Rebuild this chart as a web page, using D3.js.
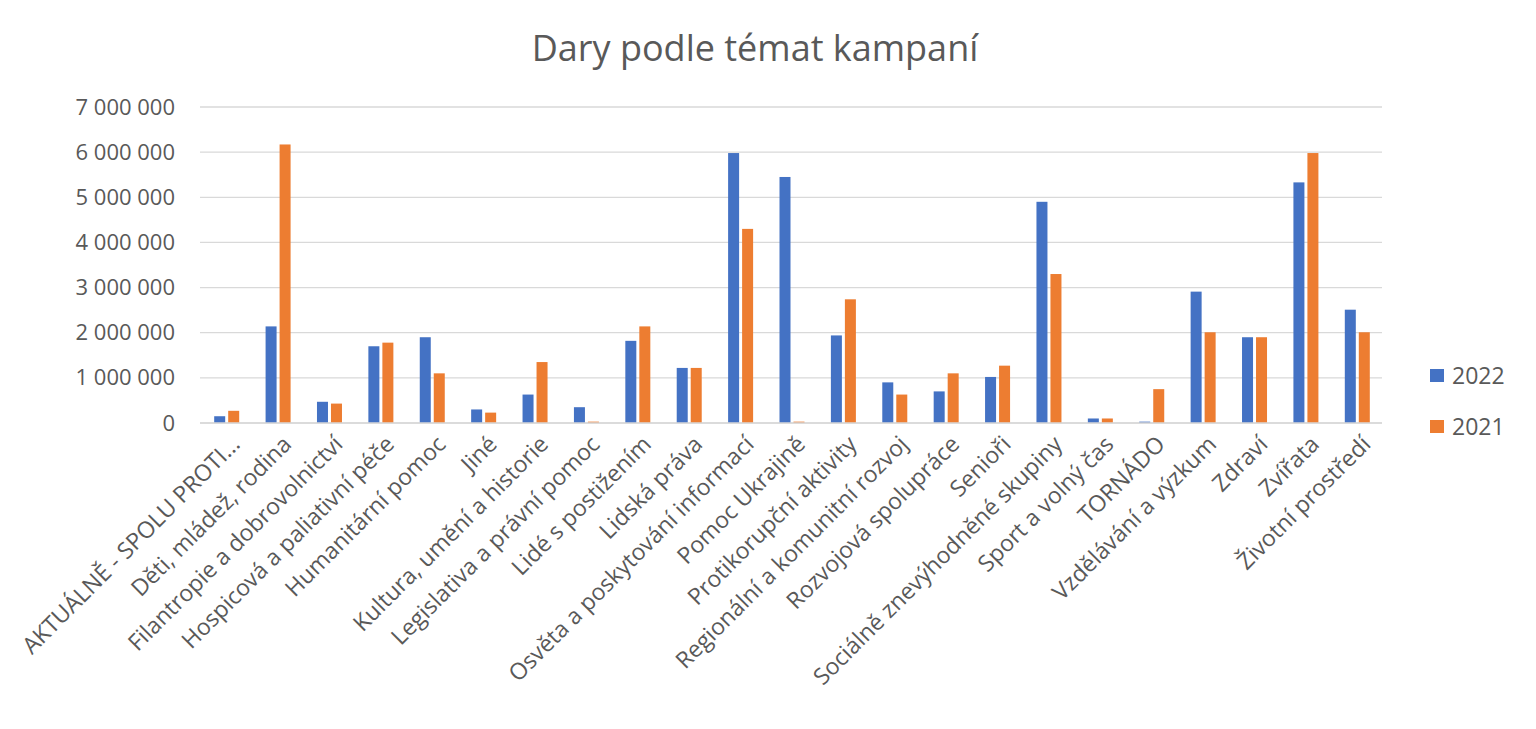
<!DOCTYPE html>
<html>
<head>
<meta charset="utf-8">
<script src="https://cdn.jsdelivr.net/npm/d3@7"></script>
<style>
  body { margin: 0; background: #fff; }
  svg text { font-family: "Open Sans", "Noto Sans", sans-serif; fill: #595959; }
</style>
</head>
<body>
<div id="chart"></div>
<script>
var categories = [
    "AKTUÁLNĚ - SPOLU PROTI...", "Děti, mládež, rodina", "Filantropie a dobrovolnictví",
    "Hospicová a paliativní péče", "Humanitární pomoc", "Jiné", "Kultura, umění a historie",
    "Legislativa a právní pomoc", "Lidé s postižením", "Lidská práva",
    "Osvěta a poskytování informací", "Pomoc Ukrajině", "Protikorupční aktivity",
    "Regionální a komunitní rozvoj", "Rozvojová spolupráce", "Senioři",
    "Sociálně znevýhodněné skupiny", "Sport a volný čas", "TORNÁDO", "Vzdělávání a výzkum",
    "Zdraví", "Zvířata", "Životní prostředí"
];
var values2022 = [
    150000, 2140000, 470000, 1700000, 1900000, 300000, 630000, 350000, 1820000, 1220000,
    5980000, 5450000, 1940000, 900000, 700000, 1020000, 4900000, 100000, 30000, 2910000,
    1900000, 5330000, 2510000
];
var values2021 = [
    270000, 6170000, 430000, 1780000, 1100000, 230000, 1350000, 30000, 2140000, 1220000,
    4300000, 30000, 2740000, 630000, 1100000, 1270000, 3300000, 100000, 750000, 2010000,
    1900000, 5980000, 2010000
];
var seriesNames = ["2022", "2021"];
var seriesColors = ["#4472C4", "#ED7D31"];
var yTicks = [0, 1000000, 2000000, 3000000, 4000000, 5000000, 6000000, 7000000];

var width = 1536, height = 729;
var margin = { top: 107, left: 200, right: 154, bottom: 306 };
var plotW = width - margin.left - margin.right;
var plotH = height - margin.top - margin.bottom;

var svg = d3.select("#chart").append("svg")
    .attr("width", width)
    .attr("height", height);

svg.append("text")
    .attr("x", 755)
    .attr("y", 61)
    .attr("text-anchor", "middle")
    .style("font-size", "36px")
    .text("Dary podle témat kampaní");

var g = svg.append("g").attr("transform", "translate(" + margin.left + "," + margin.top + ")");

var x = d3.scaleBand().domain(categories).range([0, plotW]).paddingInner(0).paddingOuter(0);
var y = d3.scaleLinear().domain([0, 7000000]).range([plotH, 0]);

var fmt = function (d) { return d3.format(",")(d).replace(/,/g, " "); };

// gridlines
g.append("g").selectAll("line").data(yTicks).enter().append("line")
    .attr("x1", 0).attr("x2", plotW)
    .attr("y1", function (d) { return y(d); })
    .attr("y2", function (d) { return y(d); })
    .attr("stroke", "#d9d9d9")
    .attr("stroke-width", 1.3);

// y axis labels
var yAxis = g.append("g").call(d3.axisLeft(y).tickValues(yTicks).tickFormat(fmt).tickSize(0).tickPadding(25));
yAxis.select(".domain").remove();
yAxis.selectAll("text").style("font-size", "22px").attr("fill", "#595959");

// bars
var barW = 11, gap = 3;
var groups = g.append("g").selectAll("g").data(categories).enter().append("g")
    .attr("transform", function (d) { return "translate(" + (x(d) + x.bandwidth() / 2 + 1) + ",0)"; });

[values2022, values2021].forEach(function (vals, si) {
    groups.append("rect")
        .attr("x", si === 0 ? -barW - gap / 2 : gap / 2)
        .attr("y", function (d, i) { return y(vals[i]); })
        .attr("width", barW)
        .attr("height", function (d, i) { return plotH - y(vals[i]); })
        .attr("fill", seriesColors[si]);
});

// x axis line
g.append("line")
    .attr("x1", 0).attr("x2", plotW)
    .attr("y1", plotH).attr("y2", plotH)
    .attr("stroke", "#d9d9d9").attr("stroke-width", 1.3);

// x labels
var xAxis = g.append("g").attr("transform", "translate(0," + plotH + ")")
    .call(d3.axisBottom(x).tickSize(0).tickPadding(0));
xAxis.select(".domain").remove();
xAxis.selectAll("text")
    .style("font-size", "23px")
    .attr("fill", "#595959")
    .attr("text-anchor", "end")
    .attr("dy", "0.35em")
    .attr("transform", "translate(10,17) rotate(-45)");

// legend
var legend = svg.append("g").attr("transform", "translate(1430,376)");
seriesNames.forEach(function (name, i) {
    var lg = legend.append("g").attr("transform", "translate(0," + (i * 51) + ")");
    lg.append("rect").attr("x", 0).attr("y", -7).attr("width", 14).attr("height", 13)
        .attr("fill", seriesColors[i]);
    lg.append("text").attr("x", 22).attr("y", 0).attr("dy", "0.35em")
        .style("font-size", "23px").text(name);
});
</script>
</body>
</html>
